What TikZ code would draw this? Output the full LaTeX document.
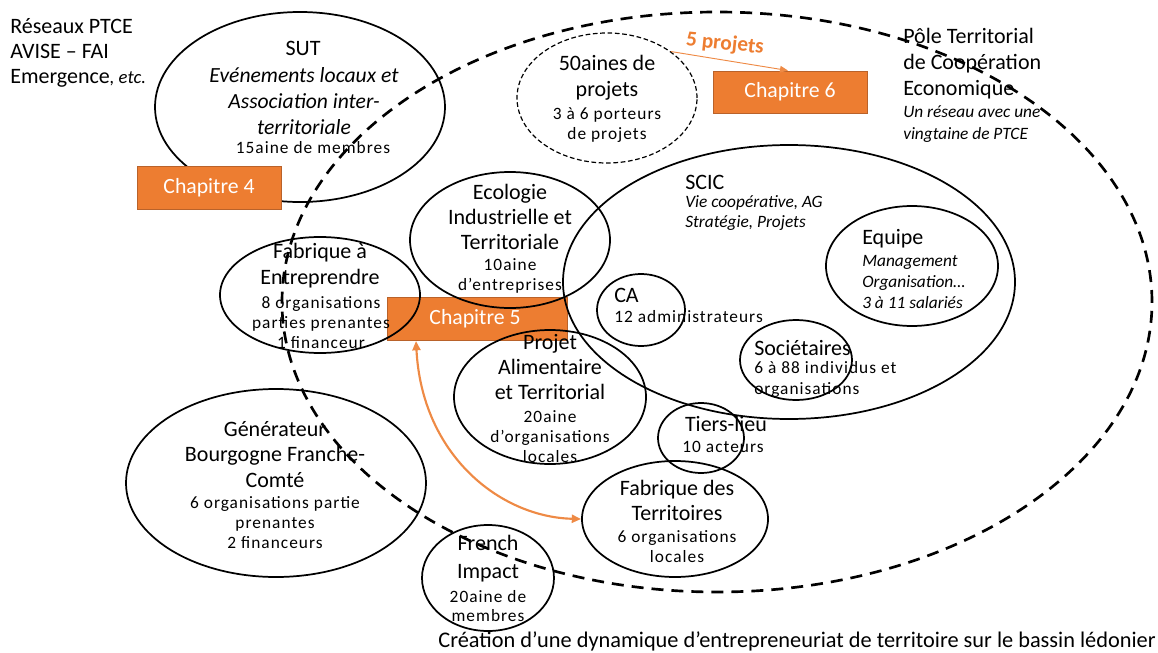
\documentclass[tikz,border=0pt]{standalone}
\usepackage{fontspec}
\setmainfont{Carlito}
\newfontfamily\spaced[LetterSpace=6]{Carlito}
\usetikzlibrary{shapes.geometric,arrows.meta}
\definecolor{chap}{HTML}{ED7D31}
\definecolor{chapedge}{HTML}{B9622A}
\definecolor{chapline}{HTML}{EE8A45}

\newcommand{\bigsize}[1]{\fontsize{16.5}{#1}\selectfont}
\newcommand{\smallsize}[1]{\fontsize{13}{#1}\selectfont\spaced}

\tikzset{
  blob/.style={draw, ellipse, line width=1.3pt, inner sep=0pt},
  bigtxt/.style={font=\bigsize{19.5pt}, align=center, inner sep=0pt},
  itxt/.style={font=\fontsize{16.2}{19.5}\selectfont\itshape, align=center, inner sep=0pt},
  stxt/.style={font=\smallsize{15pt}, align=center, inner sep=0pt},
  sitxt/.style={font=\fontsize{13}{15}\selectfont\itshape, align=left, inner sep=0pt},
  chapbox/.style={draw=chapedge, fill=chap, text=white, line width=0.7pt,
    font=\fontsize{16.3}{18}\selectfont, inner sep=0pt},
  link/.style={draw=chapline, line width=1.6pt, {Triangle[length=7pt,width=6pt]}-{Triangle[length=7pt,width=6pt]}},
}

\begin{document}
\begin{tikzpicture}[x=0.75pt,y=-0.75pt]
\useasboundingbox (0,0) rectangle (1158,653);

% box lying under the ellipse outlines
\node[chapbox, minimum width=135pt, minimum height=32.25pt] (chap5) at (477,318.5) {};

% territorial pole (dashed) and its member circles
\node[draw, ellipse, dashed, line width=2pt, dash pattern=on 9pt off 6pt, inner sep=0pt,
      minimum width=652.5pt, minimum height=435pt] (ptce) at (717,302) {};
\node[blob, minimum width=217.5pt, minimum height=142.5pt] (sut) at (300,107) {};
\node[draw, ellipse, line width=0.9pt, dash pattern=on 3.5pt off 2pt, inner sep=0pt,
      minimum width=135pt, minimum height=97.5pt] (proj50) at (607,98) {};
\node[blob, minimum width=150pt, minimum height=102pt] (eco) at (510,240) {};
\node[blob, minimum width=150pt, minimum height=87pt] (fabent) at (320,295) {};
\node[blob, minimum width=339pt, minimum height=205.5pt] (scic) at (789,282) {};
\node[blob, minimum width=66pt, minimum height=54pt] (ca) at (641,310) {};
\node[blob, minimum width=129pt, minimum height=90pt] (equipe) at (912,266) {};
\node[blob, minimum width=84pt, minimum height=60pt] (soc) at (796,360) {};
\node[blob, minimum width=144pt, minimum height=100.5pt] (pat) at (550,397) {};
\node[blob, minimum width=64.5pt, minimum height=52.5pt] (tiers) at (701,438) {};
\node[blob, minimum width=139.5pt, minimum height=87pt] (fabterr) at (675,519) {};
\node[blob, minimum width=99pt, minimum height=79.5pt] (french) at (488,578) {};
\node[blob, minimum width=225pt, minimum height=141pt] (gen) at (276,483) {};

% chapter boxes drawn over the outlines
\node[chapbox, minimum width=108pt, minimum height=32.25pt] (chap4) at (209,187.5) {Chapitre 4};
\node[chapbox, minimum width=115.5pt, minimum height=31.5pt] (chap6) at (790,92) {Chapitre 6};
\node[text=white, font=\fontsize{16.3}{18}\selectfont, inner sep=0pt] (chap5t) at (475,319) {Chapitre 5};

% free-standing texts
\node[font=\bigsize{18.75pt}, align=left, anchor=west, inner sep=0pt] (reseaux) at (10,53)
  {Réseaux PTCE\\AVISE – FAI\\Emergence{\fontsize{14}{15}\selectfont\itshape, etc.}};
\node[font=\bigsize{19.5pt}, align=left, anchor=west, inner sep=0pt] (pole) at (903,64)
  {Pôle Territorial\\de Coopération\\Economique};
\node[font=\fontsize{13}{16.5}\selectfont\itshape, align=left, anchor=west, inner sep=0pt] (polesub) at (903,124)
  {Un réseau avec une\\vingtaine de PTCE};
\node[font=\fontsize{16.75}{18}\selectfont, inner sep=0pt] (caption) at (797,641)
  {Création d’une dynamique d’entrepreneuriat de territoire sur le bassin lédonier};

% SUT
\node[bigtxt] (sutT) at (303,48) {SUT};
\node[itxt] (sutI) at (304,101) {Evénements locaux et\\Association inter-\\territoriale};
\node[stxt] (sutS) at (313,148) {15aine de membres};

% 50aines de projets
\node[bigtxt] (proj50T) at (607,78) {50aines de\\projets};
\node[stxt] (proj50S) at (607,125) {3 à 6 porteurs\\de projets};

% Ecologie industrielle
\node[bigtxt, font=\bigsize{19pt}] (ecoT) at (510,217) {Ecologie\\Industrielle et\\Territoriale};
\node[stxt] (ecoS) at (510,276) {10aine\\d’entreprises};

% Fabrique a Entreprendre
\node[bigtxt] (fabentT) at (320,266) {Fabrique à\\Entreprendre};
\node[stxt] (fabentS) at (321,323) {8 organisations\\parties prenantes\\1 financeur};

% SCIC
\node[font=\bigsize{18pt}, anchor=west, inner sep=0pt] (scicT) at (685,182) {SCIC};
\node[sitxt, anchor=west] (scicI) at (685,213) {Vie coopérative, AG\\Stratégie, Projets};

% Equipe
\node[font=\bigsize{18pt}, anchor=west, inner sep=0pt] (equipeT) at (862,239) {Equipe};
\node[sitxt, font=\fontsize{13}{15.4}\selectfont\itshape, anchor=west] (equipeI) at (862,282) {Management\\Organisation…\\3 à 11 salariés};

% CA
\node[font=\bigsize{18pt}, anchor=west, inner sep=0pt] (caT) at (614,295) {CA};
\node[stxt, anchor=west] (caS) at (614,317) {12 administrateurs};

% Societaires
\node[font=\bigsize{18pt}, anchor=west, inner sep=0pt] (socT) at (754,348) {Sociétaires};
\node[stxt, font=\smallsize{15.75pt}, align=left, anchor=west] (socS) at (754,379.5) {6 à 88 individus et\\organisations};

% Projet Alimentaire
\node[bigtxt, font=\bigsize{19pt}] (patT) at (550,367) {Projet\\Alimentaire\\et Territorial};
\node[stxt] (patS) at (550,437) {20aine\\d’organisations\\locales};

% Tiers-lieu
\node[bigtxt] (tiersT) at (726,424) {Tiers-lieu};
\node[stxt] (tiersS) at (723,447) {10 acteurs};

% Fabrique des Territoires
\node[bigtxt, font=\bigsize{18.75pt}] (fabterrT) at (677,500.5) {Fabrique des\\Territoires};
\node[stxt] (fabterrS) at (677,547) {6 organisations\\locales};

% French Impact
\node[bigtxt, font=\bigsize{21pt}] (frenchT) at (488,559) {French\\Impact};
\node[stxt, font=\smallsize{14.3pt}] (frenchS) at (488,606.5) {20aine de\\membres};

% Generateur
\node[bigtxt, font=\bigsize{19pt}] (genT) at (275,454.5) {Générateur\\Bourgogne Franche-\\Comté};
\node[stxt] (genS) at (275,523) {6 organisations partie\\prenantes\\2 financeurs};

% links
\node[text=chap, font=\fontsize{16}{18}\selectfont\bfseries, rotate=-6, inner sep=0pt] (fiveproj) at (725,44) {5 projets};
\draw[draw=chapline, line width=0.7pt, -{Triangle[length=6pt,width=5pt]}] (proj50.36) -- ([xshift=-1.5pt]chap6.north);
\coordinate (c5foot) at (416,341);
\draw[link] (c5foot) .. controls (422,455) and (500,517) .. (fabterr.west);
\end{tikzpicture}
\end{document}
